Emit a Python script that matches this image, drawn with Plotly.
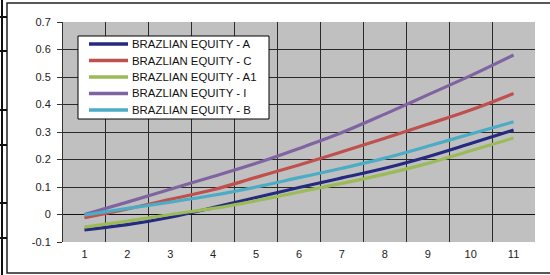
import plotly.graph_objects as go

categories = list(range(1, 12))
tick_labels = [str(c) for c in categories]
y_ticks = [-0.1, 0, 0.1, 0.2, 0.3, 0.4, 0.5, 0.6, 0.7]
y_tick_labels = ["-0.1", "0", "0.1", "0.2", "0.3", "0.4", "0.5", "0.6", "0.7"]

series_names = ["BRAZLIAN EQUITY - A", "BRAZLIAN EQUITY - C", "BRAZLIAN EQUITY - A1",
                "BRAZLIAN EQUITY - I", "BRAZLIAN EQUITY - B"]
equity_a = [-0.056, -0.037, -0.010, 0.025, 0.062, 0.098, 0.133, 0.168, 0.210, 0.258, 0.307]
equity_c = [-0.012, 0.020, 0.055, 0.090, 0.135, 0.180, 0.228, 0.277, 0.328, 0.380, 0.440]
equity_a1 = [-0.046, -0.024, 0.000, 0.022, 0.050, 0.082, 0.113, 0.147, 0.186, 0.232, 0.278]
equity_i = [0.000, 0.045, 0.092, 0.138, 0.186, 0.240, 0.298, 0.365, 0.435, 0.505, 0.580]
equity_b = [-0.002, 0.022, 0.045, 0.070, 0.100, 0.134, 0.168, 0.205, 0.248, 0.293, 0.337]
series_values = [equity_a, equity_c, equity_a1, equity_i, equity_b]
colors = ["#252a80", "#c0504d", "#9bbb59", "#8064a2", "#4bacc6"]

W, H = 550, 275
L, R, T, B = 63, 15, 22, 33
PW, PH = W - L - R, H - T - B


def px(x):
    return (x - L) / PW


def py(y):
    return (H - B - y) / PH


fig = go.Figure()
for name, vals, col in zip(series_names, series_values, colors):
    fig.add_trace(go.Scatter(x=categories, y=vals, name=name, mode="lines",
                             line=dict(color=col, width=3.2, shape="spline", smoothing=1.0)))

font = dict(family="Liberation Sans, Arial, sans-serif", size=11, color="#222222")

fig.update_layout(
    width=W, height=H,
    margin=dict(l=L, r=R, t=T, b=B),
    paper_bgcolor="white",
    plot_bgcolor="#c0c0c0",
    font=font,
    showlegend=False,
    xaxis=dict(range=[0.5, 11.5], tickvals=categories, ticktext=tick_labels,
               showgrid=False, zeroline=False, showline=False, ticks="",
               ticklabelstandoff=4,
               minor=dict(tickvals=[c + 0.5 for c in [0] + categories], showgrid=True,
                          gridcolor="#2a2a2a", gridwidth=1, ticks="")),
    yaxis=dict(range=[-0.1, 0.7], tickvals=y_ticks, ticktext=y_tick_labels,
               showgrid=True, gridcolor="#2a2a2a", gridwidth=1,
               zeroline=True, zerolinecolor="#111111", zerolinewidth=1,
               showline=True, linecolor="#333333", linewidth=1,
               ticks="outside", ticklen=5, tickcolor="#333333", ticklabelstandoff=4),
)

# chart frame and sheet border lines
shapes = [
    dict(type="rect", xref="paper", yref="paper", x0=px(7), x1=px(565), y0=py(273), y1=py(3),
         line=dict(color="#222222", width=1.5), fillcolor="rgba(0,0,0,0)", layer="below"),
    dict(type="line", xref="paper", yref="paper", x0=px(2), x1=px(2), y0=py(275), y1=py(0),
         line=dict(color="#111111", width=2)),
]
for yy in [17, 51, 110, 145, 203, 238]:
    shapes.append(dict(type="line", xref="paper", yref="paper", x0=px(0), x1=px(7),
                       y0=py(yy), y1=py(yy), line=dict(color="#111111", width=2)))

# legend box (drawn manually for compact Excel-like spacing)
shapes.append(dict(type="rect", xref="paper", yref="paper", x0=px(78), x1=px(269),
                   y0=py(119), y1=py(36), line=dict(color="#000000", width=1),
                   fillcolor="white"))
annotations = []
for i, (name, col) in enumerate(zip(series_names, colors)):
    yc = 44 + i * 16.5
    shapes.append(dict(type="line", xref="paper", yref="paper", x0=px(89), x1=px(128),
                       y0=py(yc), y1=py(yc), line=dict(color=col, width=3.5)))
    annotations.append(dict(xref="paper", yref="paper", x=px(130), y=py(yc),
                            xanchor="left", yanchor="middle", showarrow=False, text=name,
                            font=dict(family="Liberation Sans, Arial, sans-serif", size=11.4,
                                      color="#111111")))
fig.update_layout(shapes=shapes, annotations=annotations)

fig.write_html("out.html", config={"displayModeBar": False},
               post_script="document.body.style.margin='0';document.body.style.padding='0';")
